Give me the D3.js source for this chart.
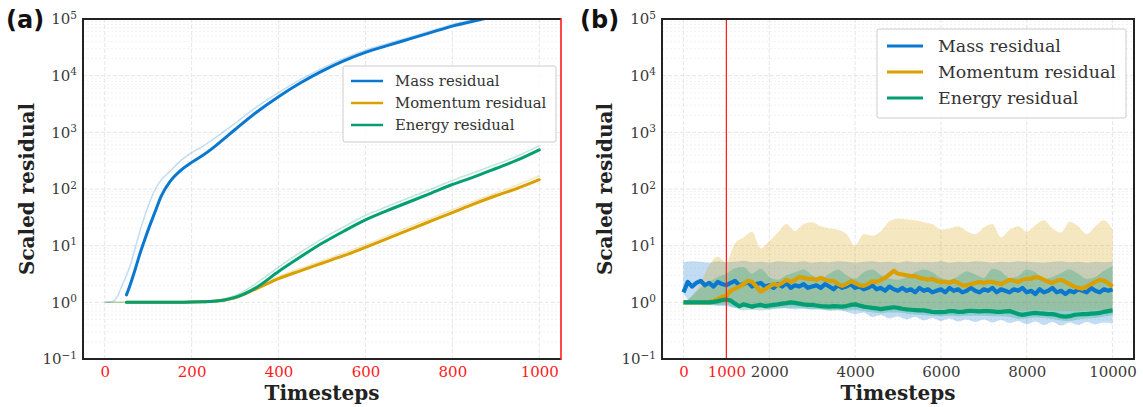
<!DOCTYPE html>
<html>
<head>
<meta charset="utf-8">
<script src="https://cdn.jsdelivr.net/npm/d3@7"></script>
<style>
  body { margin: 0; background: #fff; }
  svg { display: block; }
</style>
</head>
<body>
<svg id="fig" width="1143" height="407"></svg>
<script>
// ---------------- data ----------------
const seriesNames  = ["Mass residual", "Momentum residual", "Energy residual"];
const seriesColors = ["#0a78cf", "#d9a000", "#049e73"];

// Panel (a): first 1000 timesteps
const aSmoothSteps = [50,60,70,80,90,100,115,130,150,175,200,225,250,275,300,350,400,450,500,550,600,650,700,750,800,850,900,950,1000];
const aMassSmooth     = [1.35,2.2,3.8,6.8,11.5,19,38,75,135,214,295,389,537,776,1122,2291,4266,7413,12023,18197,25704,33884,44157,57544,74989,92257,112202,134896,158489];
const aMomentumSmooth = [1,1,1,1,1,1,1,1,1,1.005,1.01,1.02,1.04,1.09,1.2,1.75,2.62,3.6,4.9,6.65,9.35,13.3,19,27,38.3,54.7,76,103,146];
const aEnergySmooth   = [1,1,1,1,1,1,1,1,1,1.005,1.01,1.02,1.04,1.1,1.22,1.85,3.5,6.3,11,18,28.5,41.5,59,84,120,164,230,325,490];

const aRawSteps = [0,10,20,30,40,50,60,70,80,90,100,115,130,150,175,200,225,250,275,300,350,400,450,500,550,600,650,700,750,800,850,900,950,1000];
const aMassRaw     = [1,1,1.05,1.3,2,3,4.8,9,17,30,50,95,145,205,316,437,562,759,1047,1445,2818,5012,8511,13490,20184,28184,36728,47315,61660,80353,98855,120226,144544,169824];
const aMomentumRaw = [1,1,1,1,1,1,1,1,1,1,1,1,1,1,1.005,1.015,1.03,1.06,1.13,1.27,1.9,2.85,3.95,5.4,7.4,10.4,14.9,21.5,30.5,43,61,85,118,172];
const aEnergyRaw   = [1,1,1,1,1,1,1,1,1,1,1,1,1,1,1.005,1.015,1.03,1.07,1.15,1.32,2.2,4.2,7.6,13.2,21.5,34,49,70,99,141,195,270,383,585];

const aXTicks = [0,200,400,600,800,1000];

// Panel (b): 10000 timesteps, mean with spread band
const bLineStep = 100;   // mean curves every 100 steps
const bBandStep = 200;   // spread band every 200 steps

const bMassMean = [
  1.5,2.3,1.9,2.2,2.4,2.0,2.2,1.9,2.3,2.1,2.0,
  2.2,2.4,2.0,2.1,2.3,1.9,2.1,2.2,1.9,2.0,
  1.8,2.1,1.9,2.2,1.8,2.0,1.9,2.1,1.8,1.9,
  2.0,1.8,2.1,1.9,1.7,2.0,1.8,1.9,2.1,1.8,
  1.9,1.7,1.8,2.0,1.7,1.8,1.6,1.9,1.7,1.6,
  1.8,1.6,1.7,1.5,1.8,1.6,1.7,1.5,1.6,1.7,
  1.5,1.8,1.6,1.7,1.5,1.6,1.8,1.6,1.5,1.7,
  1.6,1.8,1.5,1.7,1.6,1.5,1.7,1.6,1.8,1.5,
  1.6,1.4,1.7,1.5,1.6,1.8,1.5,1.6,1.4,1.6,
  1.5,1.7,1.6,1.5,1.8,1.6,1.5,1.7,1.6,1.7
];
const bMomentumMean = [
  1.0,1.0,1.0,1.0,1.0,1.0,1.02,1.05,1.15,1.25,1.3,
  1.6,1.75,1.9,2.1,2.4,2.3,1.9,1.55,1.7,1.9,
  2.1,2.0,2.2,2.5,2.3,2.5,2.8,2.7,2.6,2.6,
  2.5,2.7,2.5,2.4,2.4,2.1,1.95,2.1,2.35,2.2,
  2.0,1.95,2.1,2.35,2.3,2.5,2.7,3.1,3.6,3.2,
  3.1,3.0,2.9,2.9,2.7,2.6,2.5,2.6,2.4,2.3,
  2.3,2.2,2.4,2.2,2.0,2.0,2.1,2.2,2.3,2.2,
  2.3,2.3,2.2,2.1,2.3,2.5,2.4,2.3,2.5,2.6,
  2.6,2.8,2.7,2.5,2.3,2.2,2.4,2.5,2.3,2.1,
  1.9,1.8,1.75,1.9,2.1,2.3,2.5,2.4,2.2,1.9
];
const bEnergyMean = [
  1.0,1.0,1.0,1.0,1.0,1.0,1.0,1.02,1.05,1.1,1.12,
  1.08,0.95,0.85,0.92,0.88,0.84,0.88,0.9,0.86,0.88,
  0.9,0.92,0.95,0.97,1.0,0.98,0.95,0.92,0.9,0.9,
  0.88,0.86,0.85,0.84,0.86,0.85,0.84,0.86,0.9,0.92,
  0.88,0.84,0.82,0.8,0.78,0.76,0.78,0.8,0.82,0.8,
  0.77,0.75,0.74,0.73,0.72,0.72,0.7,0.68,0.67,0.67,
  0.68,0.7,0.7,0.68,0.68,0.7,0.71,0.7,0.69,0.7,
  0.7,0.69,0.68,0.68,0.69,0.7,0.66,0.62,0.6,0.62,
  0.64,0.65,0.64,0.63,0.62,0.62,0.6,0.57,0.56,0.57,
  0.6,0.61,0.62,0.62,0.63,0.64,0.65,0.68,0.7,0.72
];

const bMassUpper = [
  5.1,5.3,5.2,5.0,5.3,5.1,5.2,5.4,5.1,5.2,
  5.0,5.3,5.2,5.1,5.3,5.0,5.2,5.1,5.3,5.2,
  5.0,5.2,5.3,5.1,5.2,5.0,5.3,5.1,5.2,5.1,
  5.3,5.0,5.2,5.1,5.3,5.2,5.0,5.2,5.1,5.3,
  5.2,5.1,5.0,5.2,5.3,5.1,5.2,5.0,5.2,5.1,5.2
];
const bMassLower = [
  1.4,1.0,0.95,0.9,0.88,0.85,0.8,0.82,0.78,0.8,
  0.76,0.8,0.78,0.75,0.78,0.74,0.76,0.72,0.74,0.68,
  0.62,0.66,0.55,0.6,0.52,0.56,0.5,0.55,0.48,0.53,
  0.47,0.52,0.46,0.5,0.45,0.5,0.44,0.49,0.43,0.47,
  0.41,0.46,0.4,0.45,0.39,0.44,0.4,0.45,0.41,0.44,0.42
];
const bMomentumUpper = [
  1.0,1.3,2.2,4.5,6.4,5.1,11,14,17.6,9,
  12,17,24,18,24,26,22,20,19,16,
  10,16,15,18,27,30,29,28,26,24,
  19,20,22,18,16,21,24,14,19,22,
  17.6,23,28,20,17,26.5,22,16,22,28,19
];
const bMomentumLower = [
  1.0,0.98,0.95,0.93,0.92,0.95,0.92,0.88,0.86,0.85,
  0.86,0.88,0.9,0.88,0.86,0.85,0.84,0.85,0.86,0.84,
  0.82,0.8,0.8,0.78,0.8,0.8,0.78,0.77,0.76,0.76,
  0.75,0.76,0.76,0.75,0.76,0.75,0.74,0.75,0.74,0.72,
  0.72,0.73,0.72,0.72,0.7,0.7,0.71,0.72,0.73,0.74,0.75
];
const bEnergyUpper = [
  1.0,1.3,1.8,2.3,2.8,3.2,4.0,4.2,3.2,3.9,
  2.8,2.5,3.0,3.4,3.8,3.0,2.6,3.2,3.8,3.0,
  2.6,3.4,3.8,3.0,2.6,2.5,2.8,3.4,3.8,3.4,
  2.7,2.5,2.9,3.5,3.1,2.7,3.9,3.5,2.7,2.9,
  3.8,3.4,2.6,2.8,3.3,3.8,3.2,2.6,2.8,3.6,4.3
];
const bEnergyLower = [
  1.0,0.97,0.93,0.9,0.88,0.9,0.8,0.72,0.74,0.72,
  0.74,0.76,0.8,0.8,0.78,0.76,0.74,0.72,0.72,0.72,
  0.74,0.7,0.66,0.64,0.66,0.66,0.63,0.61,0.6,0.58,
  0.57,0.58,0.57,0.58,0.58,0.58,0.57,0.57,0.55,0.51,
  0.52,0.54,0.53,0.51,0.48,0.47,0.5,0.52,0.53,0.56,0.6
];

const bXTicks = [0,1000,2000,4000,6000,8000,10000];
const bRedTicks = [0,1000];
const bMarkerStep = 1000;

const yTickExps = [-1,0,1,2,3,4,5];

// ---------------- layout ----------------
const svg = d3.select("#fig");
const serif = "'DejaVu Serif', serif";
const textGray = "#3a3a3a";
const yTop = 19, yBottom = 359;

const y = d3.scaleLog().domain([0.1, 1e5]).range([yBottom, yTop]);

const panels = {
  a: { left: 83,  right: 561,  x: d3.scaleLinear().domain([-50, 1050]).range([83, 561]) },
  b: { left: 662, right: 1134, x: d3.scaleLinear().domain([-500, 10500]).range([662, 1134]) }
};

const defs = svg.append("defs");
Object.entries(panels).forEach(([k, p]) => {
  defs.append("clipPath").attr("id", "clip-" + k)
    .append("rect").attr("x", p.left).attr("y", yTop)
    .attr("width", p.right - p.left).attr("height", yBottom - yTop);
});

function drawGrid(p, xTicks) {
  const g = svg.append("g");
  // minor log grid
  const minors = [];
  for (let e = -1; e < 5; e++) for (let m = 2; m <= 9; m++) minors.push(m * Math.pow(10, e));
  g.selectAll("line.minor").data(minors).join("line")
    .attr("x1", p.left).attr("x2", p.right)
    .attr("y1", d => y(d)).attr("y2", d => y(d))
    .attr("stroke", "#efefef").attr("stroke-width", 0.8).attr("stroke-dasharray", "2,2");
  // major grid
  g.selectAll("line.hmaj").data(yTickExps.map(e => Math.pow(10, e))).join("line")
    .attr("x1", p.left).attr("x2", p.right)
    .attr("y1", d => y(d)).attr("y2", d => y(d))
    .attr("stroke", "#e3e3e3").attr("stroke-width", 0.9).attr("stroke-dasharray", "4,2");
  g.selectAll("line.vmaj").data(xTicks).join("line")
    .attr("x1", d => p.x(d)).attr("x2", d => p.x(d))
    .attr("y1", yTop).attr("y2", yBottom)
    .attr("stroke", "#e3e3e3").attr("stroke-width", 0.9).attr("stroke-dasharray", "4,2");
}

function drawYAxis(p) {
  const ax = d3.axisLeft(y).tickValues(yTickExps.map(e => Math.pow(10, e)))
    .tickSize(0).tickPadding(6).tickFormat("");
  const g = svg.append("g").attr("transform", `translate(${p.left},0)`).call(ax);
  g.select(".domain").remove();
  g.selectAll(".tick text")
    .attr("font-family", serif).attr("font-size", 15).attr("fill", textGray)
    .each(function (d) {
      const t = d3.select(this);
      const e = Math.round(Math.log10(d));
      t.append("tspan").text("10");
      t.append("tspan").attr("dy", "-0.55em").attr("font-size", 10.5)
        .text(e < 0 ? "\u2212" + Math.abs(e) : String(e));
    });
}

function drawXAxis(p, ticks, isRed) {
  const ax = d3.axisBottom(p.x).tickValues(ticks).tickSize(0).tickPadding(7)
    .tickFormat(d3.format("d"));
  const g = svg.append("g").attr("transform", `translate(0,${yBottom})`).call(ax);
  g.select(".domain").remove();
  g.selectAll(".tick text")
    .attr("font-family", serif).attr("font-size", 15)
    .attr("fill", d => isRed(d) ? "#ff1a1a" : textGray);
}

function drawTitles(p, ylabX) {
  svg.append("text")
    .attr("x", (p.left + p.right) / 2).attr("y", 400)
    .attr("text-anchor", "middle")
    .attr("font-family", serif).attr("font-weight", "bold").attr("font-size", 20)
    .attr("fill", "#222").text("Timesteps");
  svg.append("text")
    .attr("transform", `translate(${ylabX},${(yTop + yBottom) / 2}) rotate(-90)`)
    .attr("text-anchor", "middle")
    .attr("font-family", serif).attr("font-weight", "bold").attr("font-size", 20)
    .attr("fill", "#222").text("Scaled residual");
}

function drawSpines(p, rightColor) {
  const g = svg.append("g").attr("fill", "none");
  g.append("line").attr("x1", p.left).attr("x2", p.right).attr("y1", yTop).attr("y2", yTop)
    .attr("stroke", "#222").attr("stroke-width", 2);
  g.append("line").attr("x1", p.left).attr("x2", p.right).attr("y1", yBottom).attr("y2", yBottom)
    .attr("stroke", "#222").attr("stroke-width", 2);
  g.append("line").attr("x1", p.left).attr("x2", p.left).attr("y1", yTop - 1).attr("y2", yBottom + 1)
    .attr("stroke", "#222").attr("stroke-width", 2);
  g.append("line").attr("x1", p.right).attr("x2", p.right).attr("y1", yTop - 1).attr("y2", yBottom + 1)
    .attr("stroke", rightColor).attr("stroke-width", rightColor === "#222" ? 2 : 1.6);
}

function drawLegend(box, lineX0, lineX1, textX, rowYs, fontSize, lineW) {
  const g = svg.append("g");
  g.append("rect").attr("x", box.x).attr("y", box.y).attr("width", box.w).attr("height", box.h)
    .attr("rx", 2).attr("fill", "rgba(255,255,255,0.85)").attr("stroke", "#cccccc").attr("stroke-width", 1);
  seriesNames.forEach((name, i) => {
    g.append("line").attr("x1", lineX0).attr("x2", lineX1).attr("y1", rowYs[i]).attr("y2", rowYs[i])
      .attr("stroke", seriesColors[i]).attr("stroke-width", lineW);
    g.append("text").attr("x", textX).attr("y", rowYs[i]).attr("dy", "0.35em")
      .attr("font-family", serif).attr("font-size", fontSize).attr("fill", "#333").text(name);
  });
}

function panelLabel(txt, x) {
  svg.append("text").attr("x", x).attr("y", 28)
    .attr("font-family", "'DejaVu Sans', sans-serif").attr("font-weight", "bold")
    .attr("font-size", 24).attr("fill", "#111").text(txt);
}

// ---------------- panel (a) ----------------
{
  const p = panels.a;
  drawGrid(p, aXTicks);
  const plot = svg.append("g").attr("clip-path", "url(#clip-a)");
  const line = (steps) => d3.line()
    .x((d, i) => p.x(steps[i])).y(d => y(d)).curve(d3.curveMonotoneX);

  const raws = [aMassRaw, aMomentumRaw, aEnergyRaw];
  const smooths = [aMassSmooth, aMomentumSmooth, aEnergySmooth];
  raws.forEach((vals, i) => {
    plot.append("path").datum(vals).attr("d", line(aRawSteps))
      .attr("fill", "none").attr("stroke", seriesColors[i])
      .attr("stroke-opacity", 0.25).attr("stroke-width", 1.5);
  });
  smooths.forEach((vals, i) => {
    plot.append("path").datum(vals).attr("d", line(aSmoothSteps))
      .attr("fill", "none").attr("stroke", seriesColors[i])
      .attr("stroke-width", 3).attr("stroke-linecap", "round");
  });
  drawYAxis(p);
  drawXAxis(p, aXTicks, () => true);
  drawTitles(p, 34);
  drawSpines(p, "#ff1a1a");
  drawLegend({ x: 343, y: 66, w: 213, h: 76 }, 351, 383, 395, [81, 103, 125], 14.8, 2.5);
  panelLabel("(a)", 6);
}

// ---------------- panel (b) ----------------
{
  const p = panels.b;
  drawGrid(p, bXTicks);
  const plot = svg.append("g").attr("clip-path", "url(#clip-b)");
  const bandSteps = d3.range(0, 10001, bBandStep);
  const lineSteps = d3.range(0, 10001, bLineStep);

  const bands = [[bMassUpper, bMassLower], [bMomentumUpper, bMomentumLower], [bEnergyUpper, bEnergyLower]];
  bands.forEach(([up, lo], i) => {
    const area = d3.area()
      .x((d, j) => p.x(bandSteps[j]))
      .y0((d, j) => y(lo[j])).y1(d => y(d))
      .curve(d3.curveMonotoneX);
    plot.append("path").datum(up).attr("d", area)
      .attr("fill", seriesColors[i]).attr("fill-opacity", 0.25).attr("stroke", "none");
  });

  const means = [bMassMean, bMomentumMean, bEnergyMean];
  const mline = d3.line().x((d, j) => p.x(lineSteps[j])).y(d => y(d));
  means.forEach((vals, i) => {
    plot.append("path").datum(vals).attr("d", mline)
      .attr("fill", "none").attr("stroke", seriesColors[i])
      .attr("stroke-width", 4.2).attr("stroke-linejoin", "round");
  });

  // marker for the end of the short run
  plot.append("line")
    .attr("x1", p.x(bMarkerStep)).attr("x2", p.x(bMarkerStep))
    .attr("y1", yTop).attr("y2", yBottom)
    .attr("stroke", "#ff1a1a").attr("stroke-width", 1.2);

  drawYAxis(p);
  drawXAxis(p, bXTicks, d => bRedTicks.includes(d));
  drawTitles(p, 612);
  drawSpines(p, "#222");
  drawLegend({ x: 877, y: 29, w: 249, h: 89 }, 887, 923, 938, [46, 72, 98], 17.4, 3);
  panelLabel("(b)", 580);
}
</script>
</body>
</html>
